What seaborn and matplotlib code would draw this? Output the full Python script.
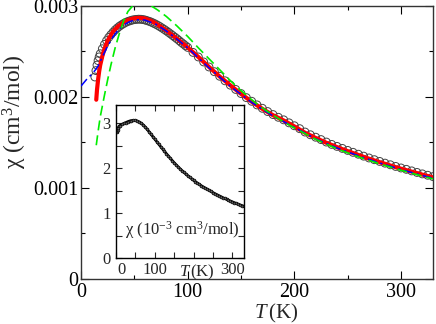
import numpy as np
import matplotlib
matplotlib.use("Agg")
import matplotlib.pyplot as plt
import pandas as pd
import seaborn as sns
from matplotlib.ticker import MultipleLocator

# measured chi (open circles), units 1e-3 cm^3/mol
T_exp = [13, 14, 15, 16, 17, 18, 20, 22, 24, 26, 28, 30, 32, 34, 36, 38, 40, 42, 44, 46,
         48, 50, 52, 54, 56, 58, 60, 62, 64, 66, 68, 70, 72, 74, 76, 78, 80, 82, 84, 86,
         88, 90, 92, 94, 96, 98, 100, 105, 110, 115, 120, 125, 130, 135, 140, 145, 150,
         155, 160, 165, 170, 175, 180, 185, 190, 195, 200, 205, 210, 215, 220, 225, 230,
         235, 240, 245, 250, 255, 260, 265, 270, 275, 280, 285, 290, 295, 300, 305, 310,
         315, 320, 325, 330]
chi_exp = [2.22, 2.29, 2.35, 2.40, 2.44, 2.475, 2.53, 2.578, 2.62, 2.655, 2.685, 2.712,
           2.737, 2.758, 2.777, 2.793, 2.807, 2.82, 2.83, 2.838, 2.845, 2.85, 2.853, 2.855,
           2.854, 2.851, 2.846, 2.839, 2.831, 2.822, 2.811, 2.80, 2.787, 2.773, 2.758,
           2.743, 2.727, 2.71, 2.693, 2.675, 2.657, 2.639, 2.62, 2.60, 2.582, 2.563, 2.545,
           2.49, 2.44, 2.385, 2.33, 2.278, 2.228, 2.178, 2.13, 2.083, 2.038, 1.993, 1.953,
           1.913, 1.876, 1.84, 1.807, 1.777, 1.749, 1.716, 1.684, 1.652, 1.615, 1.585,
           1.558, 1.532, 1.505, 1.479, 1.457, 1.435, 1.413, 1.392, 1.371, 1.35, 1.33,
           1.311, 1.292, 1.273, 1.255, 1.237, 1.22, 1.205, 1.188, 1.171, 1.155, 1.14, 1.125]

# fit curves
T_red = [14.3, 15, 16, 17, 18, 20, 22, 25, 30, 35, 40, 45, 50, 55, 60, 65, 70, 80, 90, 100,
         110, 120, 130, 140, 150, 160, 170, 180, 190, 200, 210, 220, 230, 240, 250, 260,
         270, 280, 290, 300, 310, 320, 330]
chi_red = [1.97, 2.08, 2.19, 2.28, 2.35, 2.45, 2.53, 2.62, 2.72, 2.78, 2.82, 2.85, 2.865,
           2.87, 2.862, 2.84, 2.81, 2.73, 2.64, 2.545, 2.44, 2.33, 2.225, 2.128, 2.035,
           1.948, 1.87, 1.80, 1.742, 1.677, 1.607, 1.55, 1.497, 1.449, 1.405, 1.363,
           1.322, 1.284, 1.247, 1.212, 1.18, 1.147, 1.117]

T_blue = [0, 5, 10, 13, 16, 20, 25, 30, 35, 40, 45, 50, 55, 60, 70, 80, 90, 100, 120, 140,
          160, 180, 200, 220, 240, 260, 280, 300, 320, 330]
chi_blue = [2.12, 2.19, 2.25, 2.29, 2.34, 2.44, 2.56, 2.66, 2.74, 2.79, 2.825, 2.845, 2.85,
            2.845, 2.80, 2.725, 2.635, 2.54, 2.32, 2.118, 1.94, 1.792, 1.667, 1.54, 1.44,
            1.354, 1.275, 1.203, 1.138, 1.108]

T_green = [14.3, 16, 18, 20, 22, 25, 28, 32, 36, 40, 44, 48, 52, 56, 60, 66, 72, 80, 90,
           100, 110, 120, 130, 140, 150, 160, 170, 180, 190, 200, 220, 240, 260, 280, 300,
           320, 330]
chi_green = [1.47, 1.62, 1.78, 1.90, 2.02, 2.19, 2.35, 2.54, 2.70, 2.84, 2.94, 2.995,
             3.025, 3.033, 3.025, 3.00, 2.955, 2.885, 2.78, 2.665, 2.54, 2.42, 2.30, 2.18,
             2.07, 1.97, 1.88, 1.80, 1.728, 1.66, 1.535, 1.43, 1.343, 1.265, 1.195, 1.13,
             1.10]

# inset data (1e-3 cm^3/mol)
T_in = [2, 3, 4, 5, 6, 8, 10, 15, 20, 25, 30, 35, 40, 45, 50, 55, 60, 65, 70, 75, 80, 85,
        90, 95, 100, 105, 110, 115, 120, 125, 130, 135, 140, 145, 150, 155, 160, 165, 170,
        175, 180, 185, 190, 195, 200, 205, 210, 215, 220, 225, 230, 235, 240, 245, 250,
        255, 260, 265, 270, 275, 280, 285, 290, 295, 300, 305, 310, 315, 320, 325, 330]
chi_in = [2.80, 2.82, 2.85, 2.88, 2.90, 2.93, 2.945, 2.97, 2.99, 3.01, 3.03, 3.045, 3.055,
          3.06, 3.058, 3.045, 3.025, 2.995, 2.96, 2.915, 2.865, 2.81, 2.755, 2.70, 2.645,
          2.59, 2.535, 2.48, 2.428, 2.375, 2.322, 2.27, 2.218, 2.17, 2.12, 2.075, 2.03,
          1.988, 1.948, 1.91, 1.872, 1.836, 1.80, 1.766, 1.733, 1.70, 1.67, 1.64, 1.612,
          1.585, 1.56, 1.535, 1.51, 1.485, 1.46, 1.437, 1.415, 1.393, 1.372, 1.35, 1.33,
          1.31, 1.29, 1.272, 1.255, 1.237, 1.22, 1.203, 1.187, 1.172, 1.157]

sns.set_style("ticks")
plt.rcParams['font.family'] = ['Liberation Serif', 'DejaVu Serif']
plt.rcParams['mathtext.fontset'] = 'custom'
plt.rcParams['mathtext.rm'] = 'Liberation Serif'
plt.rcParams['mathtext.it'] = 'Liberation Serif:italic'

fig = plt.figure(figsize=(4.36, 3.24), dpi=100)
ax = fig.add_axes([0.1858, 0.1389, 0.8073, 0.8426])

exp = pd.DataFrame({'T': T_exp, 'chi': np.array(chi_exp) * 1e-3})
sns.scatterplot(data=exp, x='T', y='chi', ax=ax, marker='o', s=32, facecolors='none',
                edgecolor='#444444', linewidth=0.7, zorder=2)
sns.lineplot(x=T_red, y=np.array(chi_red) * 1e-3, ax=ax, color='red', lw=3.0,
             estimator=None, sort=False, zorder=3)
sns.lineplot(x=T_blue, y=np.array(chi_blue) * 1e-3, ax=ax, color='blue', lw=1.1,
             dashes=False, estimator=None, sort=False, zorder=4)
ax.lines[-1].set_linestyle((0, (6, 2.5, 1.5, 2.5)))
sns.lineplot(x=T_green, y=np.array(chi_green) * 1e-3, ax=ax, color='#00ee00', lw=1.2,
             estimator=None, sort=False, zorder=5)
ax.lines[-1].set_linestyle((0, (6, 3)))

ax.set_xlim(0, 330)
ax.set_ylim(0, 0.003)
ax.xaxis.set_major_locator(MultipleLocator(100))
ax.xaxis.set_minor_locator(MultipleLocator(50))
ax.set_yticks([0, 0.001, 0.002, 0.003])
ax.set_yticklabels(['0', '0.001', '0.002', '0.003'])
ax.yaxis.set_minor_locator(MultipleLocator(0.0005))
ax.tick_params(which='both', direction='in', top=True, right=True, width=0.8,
               labelsize=14.5, colors='black')
ax.tick_params(which='major', length=6)
ax.tick_params(which='minor', length=3.2)
ax.tick_params(axis='y', pad=2)
ax.tick_params(axis='x', pad=3)
for s in ax.spines.values():
    s.set_linewidth(1.0)
    s.set_color('#333333')
ax.set_xlabel(r'$T\,$(K)', fontsize=15)
ax.set_ylabel(r'χ (cm$^3$/mol)', fontsize=17)
ax.xaxis.set_label_coords(0.554, -0.084)
ax.yaxis.set_label_coords(-0.148, 0.613)

# inset
axi = fig.add_axes([0.266, 0.2022, 0.2936, 0.4738])
sns.lineplot(x=T_in, y=chi_in, ax=axi, color='black', lw=1.9, marker='o', ms=2.0,
             mfc='#666666', mec='black', mew=0.5, estimator=None, sort=False)
axi.set_xlim(0, 330)
axi.set_ylim(0, 3.4)
axi.set_xticks([0, 50, 100, 150, 200, 250, 300])
axi.set_xticklabels(['', '', '100', '', '', '', '300'])
axi.set_yticks([0, 1, 2, 3])
axi.set_yticklabels(['0', '1', '2', '3'])
axi.yaxis.set_minor_locator(MultipleLocator(0.5))
axi.tick_params(which='both', direction='in', top=True, right=True, width=0.8,
                length=4.5, labelsize=12)
axi.tick_params(axis='y', pad=4)
axi.tick_params(axis='x', pad=2.5)
for s in axi.spines.values():
    s.set_linewidth(1.0)
    s.set_color('black')
axi.set_xlabel('')
axi.set_ylabel('')
axi.text(15.5, -0.025, '0', fontsize=12, ha='center', va='top',
         transform=axi.get_xaxis_transform())
axi.text(209, -0.025, r'$T\,$(K)', fontsize=12, ha='center', va='top',
         transform=axi.get_xaxis_transform())
axi.text(0.52, 0.185, r'χ (10$^{-3}$ cm$^3$/mol)', fontsize=12, ha='center',
         va='center', transform=axi.transAxes)

fig.savefig('out.png', dpi=100)
